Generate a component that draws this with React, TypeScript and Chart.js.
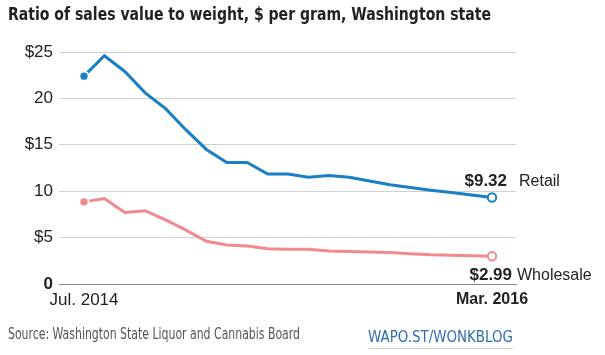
import React, { useEffect, useLayoutEffect, useRef } from "react";
import { Chart, registerables } from "chart.js";

Chart.register(...registerables);

const months = [
  "Jul. 2014", "Aug. 2014", "Sep. 2014", "Oct. 2014", "Nov. 2014", "Dec. 2014",
  "Jan. 2015", "Feb. 2015", "Mar. 2015", "Apr. 2015", "May 2015", "Jun. 2015",
  "Jul. 2015", "Aug. 2015", "Sep. 2015", "Oct. 2015", "Nov. 2015", "Dec. 2015",
  "Jan. 2016", "Feb. 2016", "Mar. 2016",
];
const retail = [22.4, 24.6, 22.9, 20.6, 18.9, 16.6, 14.5, 13.1, 13.1, 11.85, 11.85, 11.5, 11.7, 11.5, 11.1, 10.7, 10.4, 10.1, 9.85, 9.6, 9.32];
const wholesale = [8.85, 9.2, 7.7, 7.9, 6.9, 5.8, 4.6, 4.2, 4.1, 3.8, 3.75, 3.75, 3.55, 3.5, 3.45, 3.4, 3.25, 3.15, 3.1, 3.05, 2.99];
const yTicks = [0, 5, 10, 15, 20, 25];
const yTickLabels = ["0", "$5", "10", "$15", "20", "$25"];
const seriesNames = ["Retail", "Wholesale"];
const endLabels = ["$9.32", "$2.99"];

const BLUE = "#1a7fc3";
const PINK = "#f28a8d";
const FONT = "'Liberation Sans', Arial, sans-serif";
const NARROW = "'DejaVu Sans Condensed', 'Liberation Sans', sans-serif";

function pointStyle(n: number, color: string) {
  const radius = Array.from({ length: n }, (_, i) => (i === 0 ? 4.6 : i === n - 1 ? 4.2 : 0));
  const bg = Array.from({ length: n }, (_, i) => (i === n - 1 ? "#ffffff" : color));
  const border = Array.from({ length: n }, (_, i) => (i === 0 ? "#ffffff" : color));
  const bw = Array.from({ length: n }, (_, i) => (i === 0 ? 1.8 : 2));
  return { pointRadius: radius, pointBackgroundColor: bg, pointBorderColor: border, pointBorderWidth: bw };
}

const endLabelPlugin = {
  id: "endLabels",
  afterDatasetsDraw(chart: any) {
    const { ctx } = chart;
    const xs = chart.scales.x;
    const ys = chart.scales.y;
    const lastIdx = months.length - 1;
    const x = xs.getPixelForValue(lastIdx);
    ctx.save();
    ctx.textBaseline = "middle";
    const yr = ys.getPixelForValue(retail[lastIdx]);
    ctx.fillStyle = "#222";
    ctx.font = `bold 17px ${FONT}`;
    ctx.textAlign = "right";
    ctx.fillText(endLabels[0], x + 15, yr - 16);
    ctx.font = `16px ${FONT}`;
    ctx.textAlign = "left";
    ctx.fillText(seriesNames[0], x + 27, yr - 16);
    const yw = ys.getPixelForValue(wholesale[lastIdx]);
    ctx.font = `bold 17px ${FONT}`;
    ctx.textAlign = "right";
    ctx.fillText(endLabels[1], x + 20, yw + 19);
    ctx.font = `16px ${FONT}`;
    ctx.textAlign = "left";
    ctx.fillText(seriesNames[1], x + 25, yw + 19);
    ctx.restore();
  },
};

function FitText(props: { text: string; left: number; top: number; width: number; style: React.CSSProperties }) {
  const ref = useRef<HTMLSpanElement>(null);
  useLayoutEffect(() => {
    const el = ref.current!;
    el.style.transform = "none";
    const w = el.getBoundingClientRect().width;
    if (w > 0) el.style.transform = `scaleX(${props.width / w})`;
  }, [props.text, props.width]);
  return (
    <span
      ref={ref}
      style={{
        position: "absolute", left: props.left, top: props.top, whiteSpace: "nowrap",
        transformOrigin: "0 0", display: "inline-block", ...props.style,
      }}
    >
      {props.text}
    </span>
  );
}

export default function App() {
  const ref = useRef<HTMLCanvasElement>(null);
  useEffect(() => {
    const canvas = ref.current!;
    const chart = new Chart(canvas, {
      type: "line",
      data: {
        datasets: [
          {
            label: seriesNames[0],
            data: retail.map((v, i) => ({ x: i, y: v })),
            borderColor: BLUE,
            borderWidth: 3,
            tension: 0,
            ...pointStyle(retail.length, BLUE),
          } as any,
          {
            label: seriesNames[1],
            data: wholesale.map((v, i) => ({ x: i, y: v })),
            borderColor: PINK,
            borderWidth: 3,
            tension: 0,
            ...pointStyle(wholesale.length, PINK),
          } as any,
        ],
      },
      options: {
        animation: false,
        responsive: false,
        clip: false as any,
        layout: { padding: { left: 0, right: 89, top: 52, bottom: 0 } },
        plugins: { legend: { display: false }, tooltip: { enabled: false } },
        scales: {
          x: {
            type: "linear",
            min: -1.225,
            max: 21.176,
            afterBuildTicks: (scale: any) => {
              scale.ticks = [{ value: 0 }, { value: months.length - 1 }];
            },
            afterFit: (scale: any) => {
              scale.height = 71;
            },
            grid: { display: false, drawTicks: false },
            border: { display: true, color: "#8a8a8a", width: 1 },
            ticks: {
              autoSkip: false,
              maxRotation: 0,
              padding: 6,
              color: "#222",
              font: (c: any) =>
                c.index === 1
                  ? { family: FONT, size: 16, weight: "bold" }
                  : { family: FONT, size: 17, weight: "normal" },
              callback: (v: any) => months[Math.round(Number(v))],
            },
          },
          y: {
            type: "linear",
            min: 0,
            max: 25,
            afterBuildTicks: (scale: any) => {
              scale.ticks = yTicks.map((v) => ({ value: v }));
            },
            afterFit: (scale: any) => {
              scale.width = 59;
            },
            grid: { color: "#d0d0d0", lineWidth: 1, drawTicks: false },
            border: { display: false },
            ticks: {
              padding: 6,
              color: "#222",
              font: (c: any) =>
                c.index === 0
                  ? { family: FONT, size: 17, weight: "bold" }
                  : { family: FONT, size: 17, weight: "normal" },
              callback: (v: any) => yTickLabels[yTicks.indexOf(Number(v))],
            },
          },
        },
      },
      plugins: [endLabelPlugin],
    });
    return () => chart.destroy();
  }, []);

  return (
    <div style={{ position: "absolute", left: 0, top: 0, width: 605, height: 355, background: "#fff", overflow: "hidden" }}>
      <canvas ref={ref} width={605} height={355} style={{ position: "absolute", left: 0, top: 0, width: 605, height: 355 }} />
      <FitText
        text="Ratio of sales value to weight, $ per gram, Washington state"
        left={8}
        top={4}
        width={483}
        style={{ fontFamily: NARROW, fontWeight: "bold", fontSize: 18, lineHeight: "20px", color: "#222" }}
      />
      <FitText
        text="Source: Washington State Liquor and Cannabis Board"
        left={8}
        top={326}
        width={292}
        style={{ fontFamily: NARROW, fontSize: 15.5, lineHeight: "17px", color: "#555" }}
      />
      <FitText
        text="WAPO.ST/WONKBLOG"
        left={368}
        top={329}
        width={145}
        style={{ fontFamily: NARROW, fontSize: 15, lineHeight: "17px", color: "#2e6db4" }}
      />
      <div style={{ position: "absolute", left: 368, top: 348, width: 145, height: 1, background: "#cfcfcf" }} />
    </div>
  );
}
